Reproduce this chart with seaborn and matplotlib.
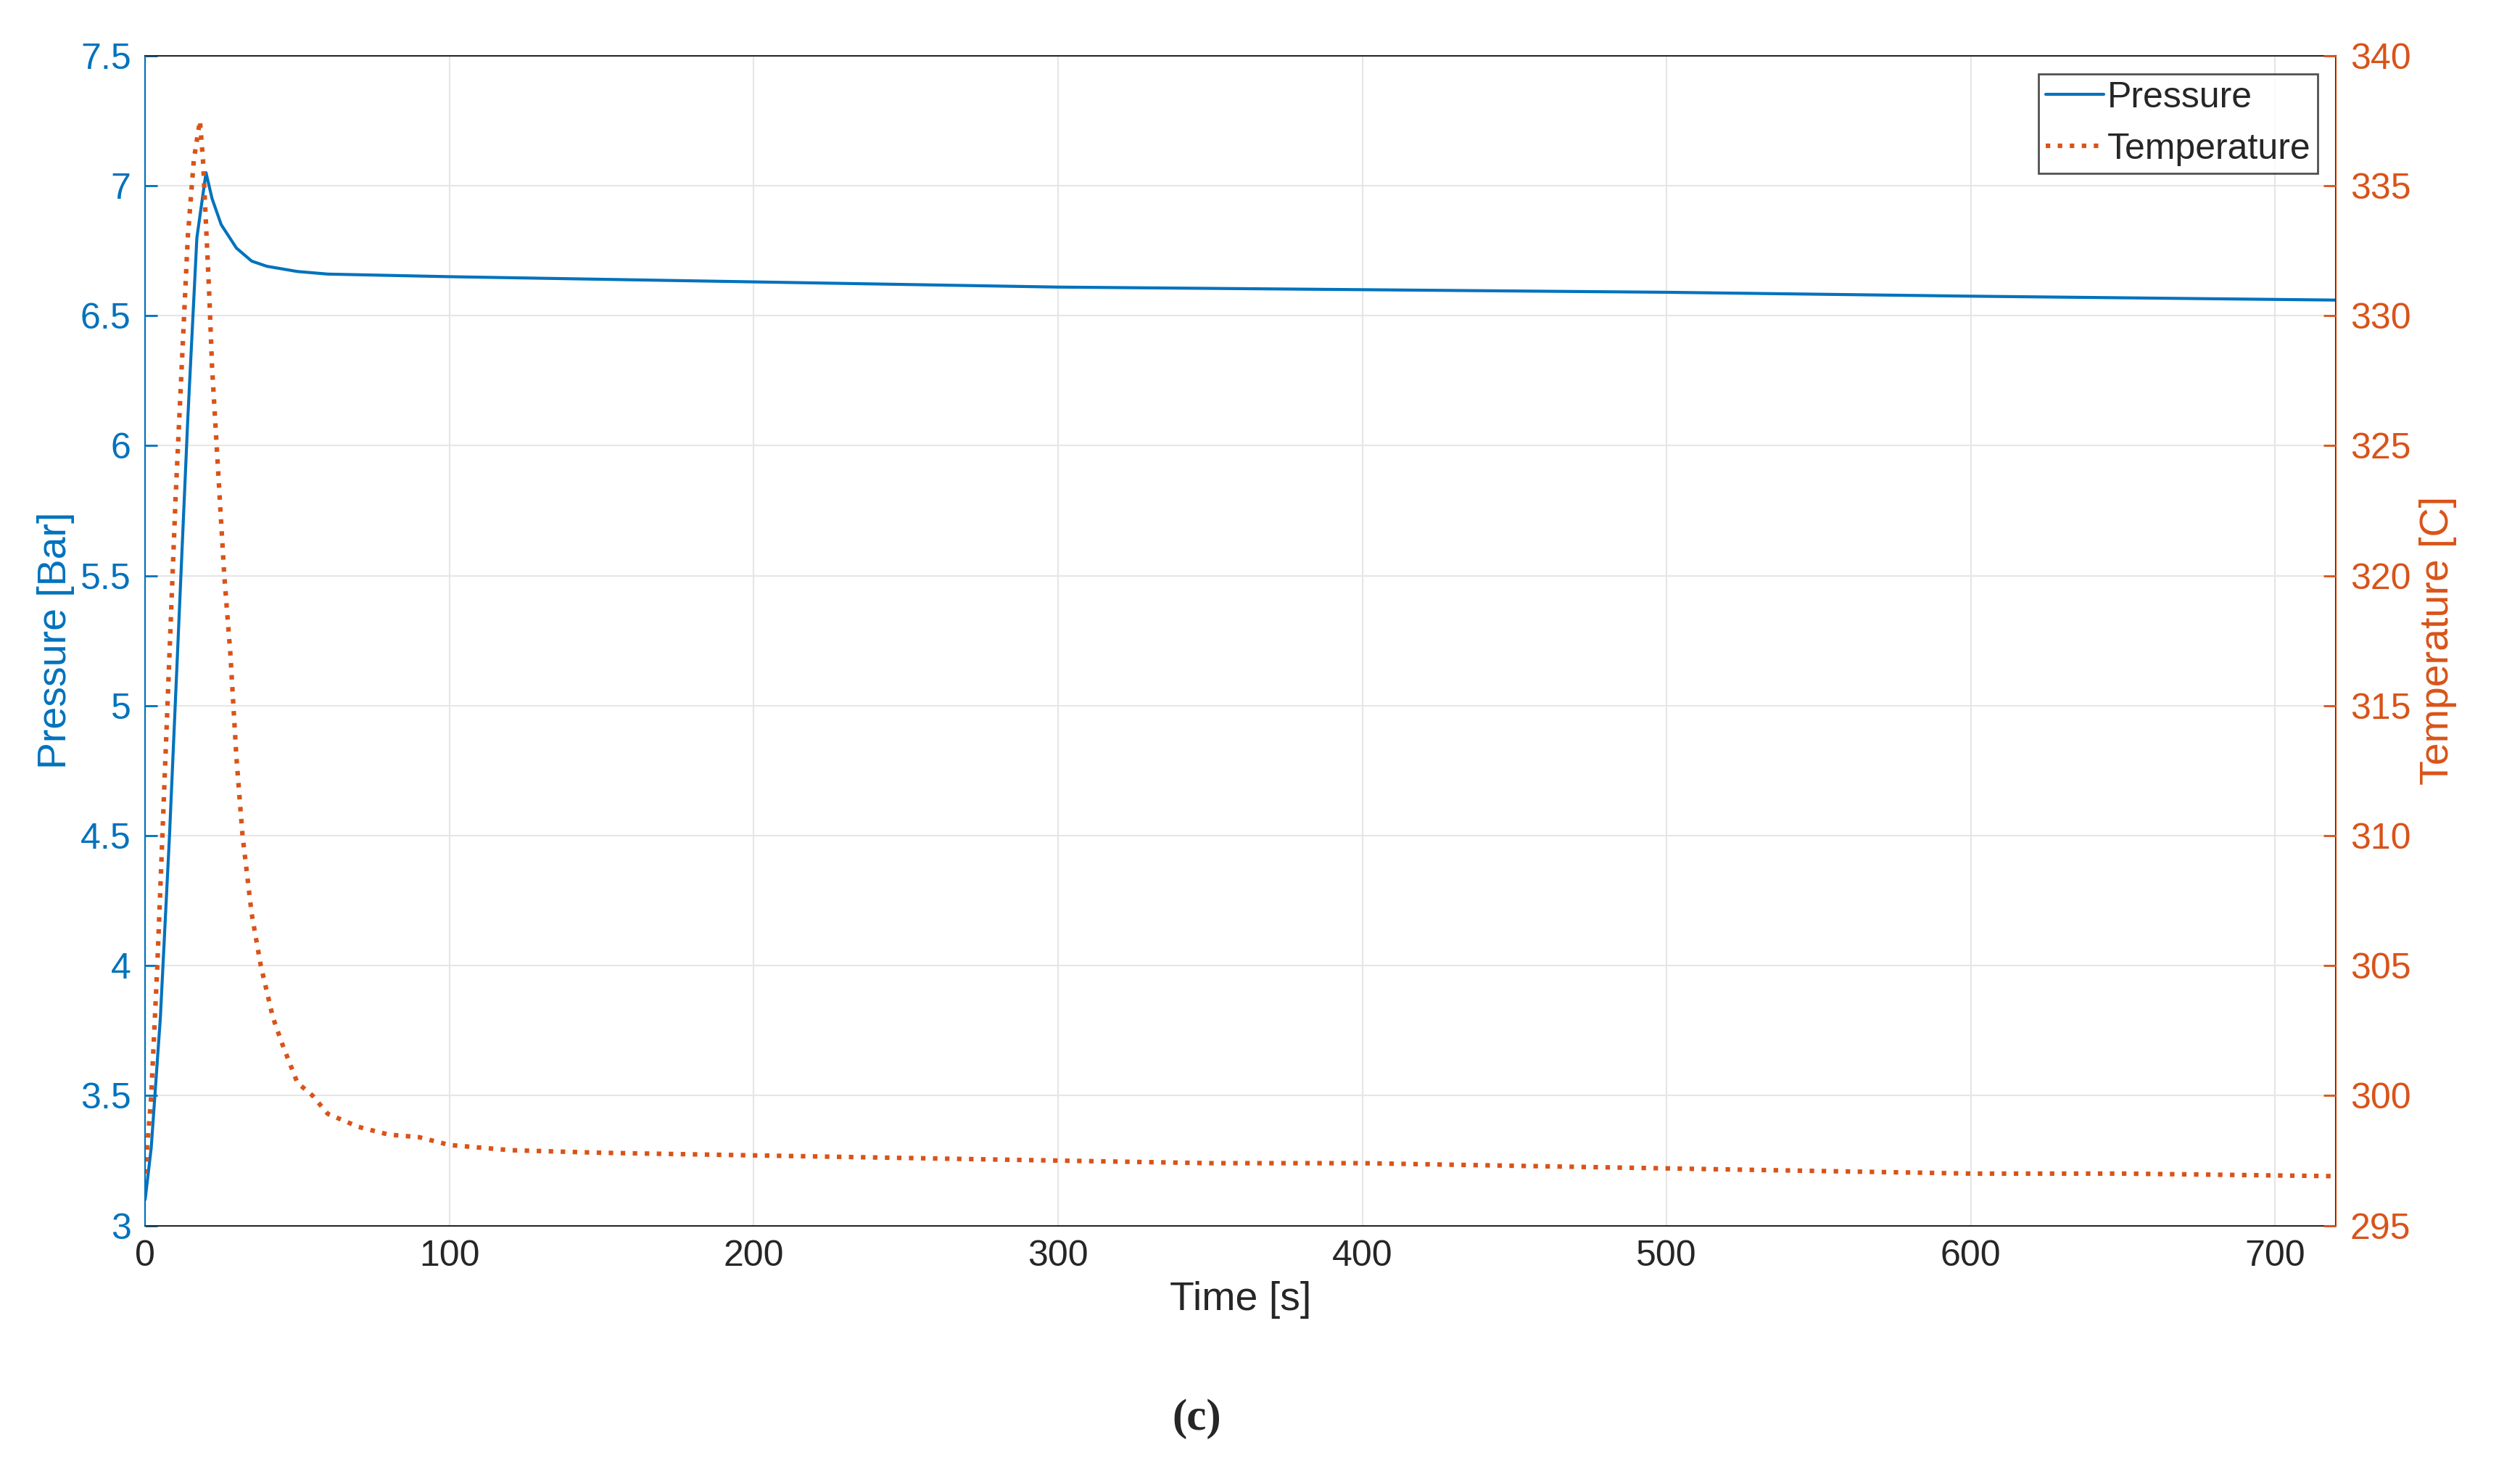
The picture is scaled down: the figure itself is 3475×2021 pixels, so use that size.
import numpy as np
import matplotlib
matplotlib.use("Agg")
import matplotlib.pyplot as plt
import seaborn as sns
import pandas as pd

sns.set_style("white")
plt.rcParams['font.family'] = ['Liberation Sans', 'DejaVu Sans']

p_time = [0, 2, 5, 8, 11, 14, 17, 20, 22, 25, 30, 35, 40, 50, 60, 100, 200, 300, 400, 500, 600, 720]
pressure = [3.1, 3.3, 3.8, 4.5, 5.3, 6.1, 6.8, 7.05, 6.95, 6.85, 6.76, 6.71, 6.69, 6.67, 6.66, 6.65, 6.63, 6.61, 6.60, 6.59, 6.575, 6.56]

t_time = [0, 2, 4, 6, 8, 10, 12, 14, 16, 18, 19, 20, 21, 22, 24, 26, 28, 30, 32, 35, 38, 42, 45, 50, 55, 60, 70, 80, 90, 100, 120, 150, 200, 250, 300, 350, 400, 450, 500, 550, 600, 650, 720]
temperature = [297, 300, 305, 311, 317, 323, 328, 333, 336, 337.5, 336, 333.5, 331, 328, 324, 320, 317, 313, 310, 307, 305, 303, 302, 300.5, 300, 299.3, 298.8, 298.5, 298.4, 298.1, 297.9, 297.8, 297.7, 297.6, 297.5, 297.4, 297.4, 297.3, 297.2, 297.1, 297.0, 297.0, 296.9]

blue = "#0072BD"
orange = "#D95319"

fig = plt.figure(figsize=(34.75, 20.21), dpi=100)
ax = fig.add_axes([0.0576, 0.164, 0.8694, 0.798])
dfp = pd.DataFrame({"t": p_time, "p": pressure})
dft = pd.DataFrame({"t": t_time, "T": temperature})
sns.lineplot(data=dfp, x="t", y="p", ax=ax, color=blue, lw=3, label="Pressure", legend=False)
ax2 = ax.twinx()
sns.lineplot(data=dft, x="t", y="T", ax=ax2, color=orange, lw=4.5, ls=":", label="Temperature", legend=False)

ax.set_xlim(0, 720)
ax.set_ylim(3, 7.5)
ax2.set_ylim(295, 340)
ax.set_xticks(range(0, 701, 100))
ax.set_yticks(np.arange(3, 7.51, 0.5))
ax.set_yticklabels(["3", "3.5", "4", "4.5", "5", "5.5", "6", "6.5", "7", "7.5"])
ax2.set_yticks(range(295, 341, 5))
ax.grid(True, color="#e6e6e6", lw=1.5)
fs = 36
ax.tick_params(axis="x", labelsize=fs, colors="#262626", direction="in", length=12, width=2, pad=14)
ax.tick_params(axis="y", labelsize=fs, colors=blue, direction="in", length=12, width=2, pad=14)
ax2.tick_params(axis="y", labelsize=fs, colors=orange, direction="in", length=12, width=2, pad=14)
ax.set_xlabel("Time [s]", fontsize=40, color="#262626", labelpad=8)
ax.set_ylabel("Pressure [Bar]", fontsize=40, color=blue, labelpad=6)
ax2.set_ylabel("Temperature [C]", fontsize=40, color=orange, labelpad=8)
for s in ax.spines.values():
    s.set_color("#262626"); s.set_linewidth(1.5)
ax2.spines["left"].set_color(blue); ax.spines["left"].set_color(blue)
ax2.spines["right"].set_color(orange)
for s in ["top", "bottom"]:
    ax2.spines[s].set_visible(False)

h1, l1 = ax.get_legend_handles_labels()
h2, l2 = ax2.get_legend_handles_labels()
leg = ax2.legend(h1 + h2, l1 + l2, loc="upper right", fontsize=36, frameon=True, fancybox=False,
                 edgecolor="#262626", handlelength=1.6, handletextpad=0.1, borderpad=0.2, borderaxespad=0.5)
leg.get_frame().set_linewidth(2)

fig.text(0.475, 0.025, "(c)", fontsize=44, family="Liberation Serif", fontweight="bold", ha="center")
fig.savefig("out.png", dpi=100)
